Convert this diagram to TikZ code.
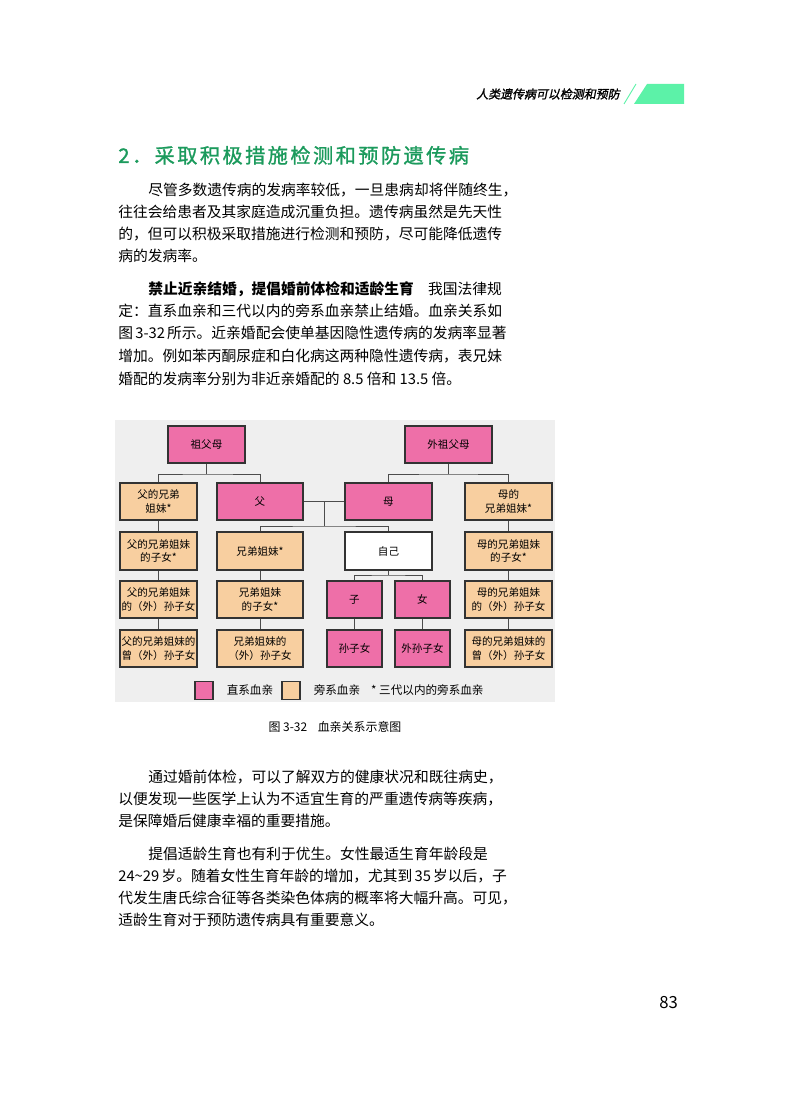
\documentclass[tikz,border=0pt]{standalone}
\usepackage{fontspec}
\setmainfont{Noto Sans CJK SC}
\newfontfamily\headfont[FakeSlant=0.2,FakeBold=1.5]{Noto Sans CJK SC}
\newfontfamily\titlefont[LetterSpace=12,FakeBold=1.2]{Noto Sans CJK SC}
\XeTeXlinebreaklocale "zh"
\XeTeXlinebreakskip=0pt plus 3pt
\usetikzlibrary{positioning}
\definecolor{DirectPink}{HTML}{EE6FA8}
\definecolor{SideTan}{HTML}{F8CFA0}
\definecolor{PanelGrey}{HTML}{EFEFEF}
\definecolor{TitleGreen}{HTML}{1B9A5C}
\definecolor{BarGreen}{HTML}{5CF2A8}
\tikzstyle{kin_box}=[rectangle,
        draw=black!80,
        line width=0.6pt,
        align=center,
        font=\fontsize{6.0}{7.8}\selectfont,
        inner sep=0pt]
\tikzstyle{direct}=[kin_box, fill=DirectPink]
\tikzstyle{side}=[kin_box, fill=SideTan]
\tikzstyle{self}=[kin_box, fill=white]
\tikzstyle{body}=[anchor=base west, inner sep=0pt, font=\fontsize{8.4}{10}\selectfont]
\newcommand{\fullline}[1]{\makebox[7.7cm][s]{#1}}
\newcommand{\indline}[1]{\makebox[7.1cm][s]{#1}}

\begin{document}
\begin{tikzpicture}[x=0.02cm, y=-0.02cm]
\useasboundingbox (0,0) rectangle (800,1094);

% running head
\node at (620,94) (head) [anchor=east, inner sep=0pt, font=\headfont\fontsize{6.8}{8}\selectfont] {人类遗传病可以检测和预防};
\draw[BarGreen, line width=0.5pt] (636,84) -- (624,104);
\fill[BarGreen] (647,84) -- (684,84) -- (684,104) -- (634,104) -- cycle;

% section title
\node at (118,163) (title) [anchor=base west, inner sep=0pt, text=TitleGreen, font=\titlefont\fontsize{11.5}{13}\selectfont] {2．采取积极措施检测和预防遗传病};

% text before the figure
\node at (148,196) (p1) [body] {\indline{尽管多数遗传病的发病率较低，一旦患病却将伴随终生，}};
\node at (118,218) (p2) [body] {\fullline{往往会给患者及其家庭造成沉重负担。遗传病虽然是先天性}};
\node at (118,240) (p3) [body] {\fullline{的，但可以积极采取措施进行检测和预防，尽可能降低遗传}};
\node at (118,262) (p4) [body] {病的发病率。};
\node at (148,295) (p5) [body] {\indline{{\bfseries 禁止近亲结婚，提倡婚前体检和适龄生育}\hspace{8pt}我国法律规}};
\node at (118,317) (p6) [body] {\fullline{定：直系血亲和三代以内的旁系血亲禁止结婚。血亲关系如}};
\node at (118,339) (p7) [body] {\fullline{图 3-32 所示。近亲婚配会使单基因隐性遗传病的发病率显著}};
\node at (118,361) (p8) [body] {\fullline{增加。例如苯丙酮尿症和白化病这两种隐性遗传病，表兄妹}};
\node at (118,384) (p9) [body] {婚配的发病率分别为非近亲婚配的 8.5 倍和 13.5 倍。};

% figure panel
\fill[PanelGrey] (115,420) rectangle (555,702);

% grandparents
\node at (206.5,444.5) (gp) [direct, minimum width=1.54cm, minimum height=0.74cm] {祖父母};
\node at (448.5,444.5) (mgp) [direct, minimum width=1.74cm, minimum height=0.74cm] {外祖父母};

% second row
\node at (158.5,501.5) (funcle) [side, minimum width=1.54cm, minimum height=0.74cm] {父的兄弟\\姐妹*};
\node at (260,501.5) (dad) [direct, minimum width=1.72cm, minimum height=0.74cm] {父};
\node at (388.5,501.5) (mom) [direct, minimum width=1.74cm, minimum height=0.74cm] {母};
\node at (508.5,501.5) (muncle) [side, minimum width=1.74cm, minimum height=0.74cm] {母的\\兄弟姐妹*};

% third row
\node at (158.5,551) (fcousin) [side, minimum width=1.54cm, minimum height=0.76cm] {父的兄弟姐妹\\的子女*};
\node at (260,551) (sib) [side, minimum width=1.72cm, minimum height=0.76cm] {兄弟姐妹*};
\node at (388.5,551) (me) [self, minimum width=1.74cm, minimum height=0.76cm] {自己};
\node at (508.5,551) (mcousin) [side, minimum width=1.74cm, minimum height=0.76cm] {母的兄弟姐妹\\的子女*};

% fourth row
\node at (158.5,599.5) (fgrand) [side, minimum width=1.54cm, minimum height=0.74cm] {父的兄弟姐妹\\的（外）孙子女};
\node at (260,599.5) (nephew) [side, minimum width=1.72cm, minimum height=0.74cm] {兄弟姐妹\\的子女*};
\node at (354.5,599.5) (son) [direct, minimum width=1.1cm, minimum height=0.74cm] {子};
\node at (422.5,599.5) (dau) [direct, minimum width=1.1cm, minimum height=0.74cm] {女};
\node at (508.5,599.5) (mgrand) [side, minimum width=1.74cm, minimum height=0.74cm] {母的兄弟姐妹\\的（外）孙子女};

% fifth row
\node at (158.5,648.5) (fgreat) [side, minimum width=1.54cm, minimum height=0.74cm] {父的兄弟姐妹的\\曾（外）孙子女};
\node at (260,648.5) (sibgrand) [side, minimum width=1.72cm, minimum height=0.74cm] {兄弟姐妹的\\（外）孙子女};
\node at (354.5,648.5) (grand) [direct, minimum width=1.1cm, minimum height=0.74cm] {孙子女};
\node at (422.5,648.5) (dgrand) [direct, minimum width=1.1cm, minimum height=0.74cm] {外孙子女};
\node at (508.5,648.5) (mgreat) [side, minimum width=1.74cm, minimum height=0.74cm] {母的兄弟姐妹的\\曾（外）孙子女};

% connectors
\tikzset{kin_line/.style={draw=black!70, line width=0.5pt}}
\coordinate (gpfork) at (206.5,474);
\draw[kin_line] (gp.south) -- (gpfork) (funcle.north) |- (gpfork) -| (dad.north);
\coordinate (mgpfork) at (448.5,474);
\draw[kin_line] (mgp.south) -- (mgpfork) (mom.north) |- (mgpfork) -| (muncle.north);
\draw[kin_line] (dad.east) -- (mom.west);
\coordinate (marry) at (324,501.5);
\coordinate (sibfork) at (324,526);
\draw[kin_line] (marry) -- (sibfork) (sib.north) |- (sibfork) -| (me.north);
\coordinate (mefork) at (388.5,575);
\draw[kin_line] (me.south) -- (mefork) (son.north) |- (mefork) -| (dau.north);
\foreach \up/\down in {funcle/fcousin, fcousin/fgrand, fgrand/fgreat, sib/nephew, nephew/sibgrand,
        son/grand, dau/dgrand, muncle/mcousin, mcousin/mgrand, mgrand/mgreat} {
    \draw[kin_line] (\up.south) -- (\down.north);
}

% legend
\node at (204,690.5) (keydirect) [direct, minimum size=0.36cm] {};
\node [right=4pt of keydirect, font=\fontsize{6.6}{8}\selectfont] (keydirecttext) {直系血亲};
\node at (291,690.5) (keyside) [side, minimum size=0.36cm] {};
\node [right=4pt of keyside, font=\fontsize{6.6}{8}\selectfont] (keysidetext) {旁系血亲};
\node at (365,690.5) (keystar) [anchor=west, font=\fontsize{6.6}{8}\selectfont] {*\ 三代以内的旁系血亲};

% caption
\node at (335,727) (caption) [font=\fontsize{6.8}{8}\selectfont] {图 3-32\hspace{6pt}血亲关系示意图};

% text after the figure
\node at (148,782) (q1) [body] {\indline{通过婚前体检，可以了解双方的健康状况和既往病史，}};
\node at (118,804) (q2) [body] {\fullline{以便发现一些医学上认为不适宜生育的严重遗传病等疾病，}};
\node at (118,826) (q3) [body] {是保障婚后健康幸福的重要措施。};
\node at (148,859) (q4) [body] {\indline{提倡适龄生育也有利于优生。女性最适生育年龄段是}};
\node at (118,881) (q5) [body] {\fullline{24\textasciitilde 29 岁。随着女性生育年龄的增加，尤其到 35 岁以后，子}};
\node at (118,903) (q6) [body] {\fullline{代发生唐氏综合征等各类染色体病的概率将大幅升高。可见，}};
\node at (118,925) (q7) [body] {适龄生育对于预防遗传病具有重要意义。};

% page number
\node at (684,1003) (pageno) [anchor=east, font=\fontsize{9.5}{11}\selectfont] {83};
\end{tikzpicture}
\end{document}
